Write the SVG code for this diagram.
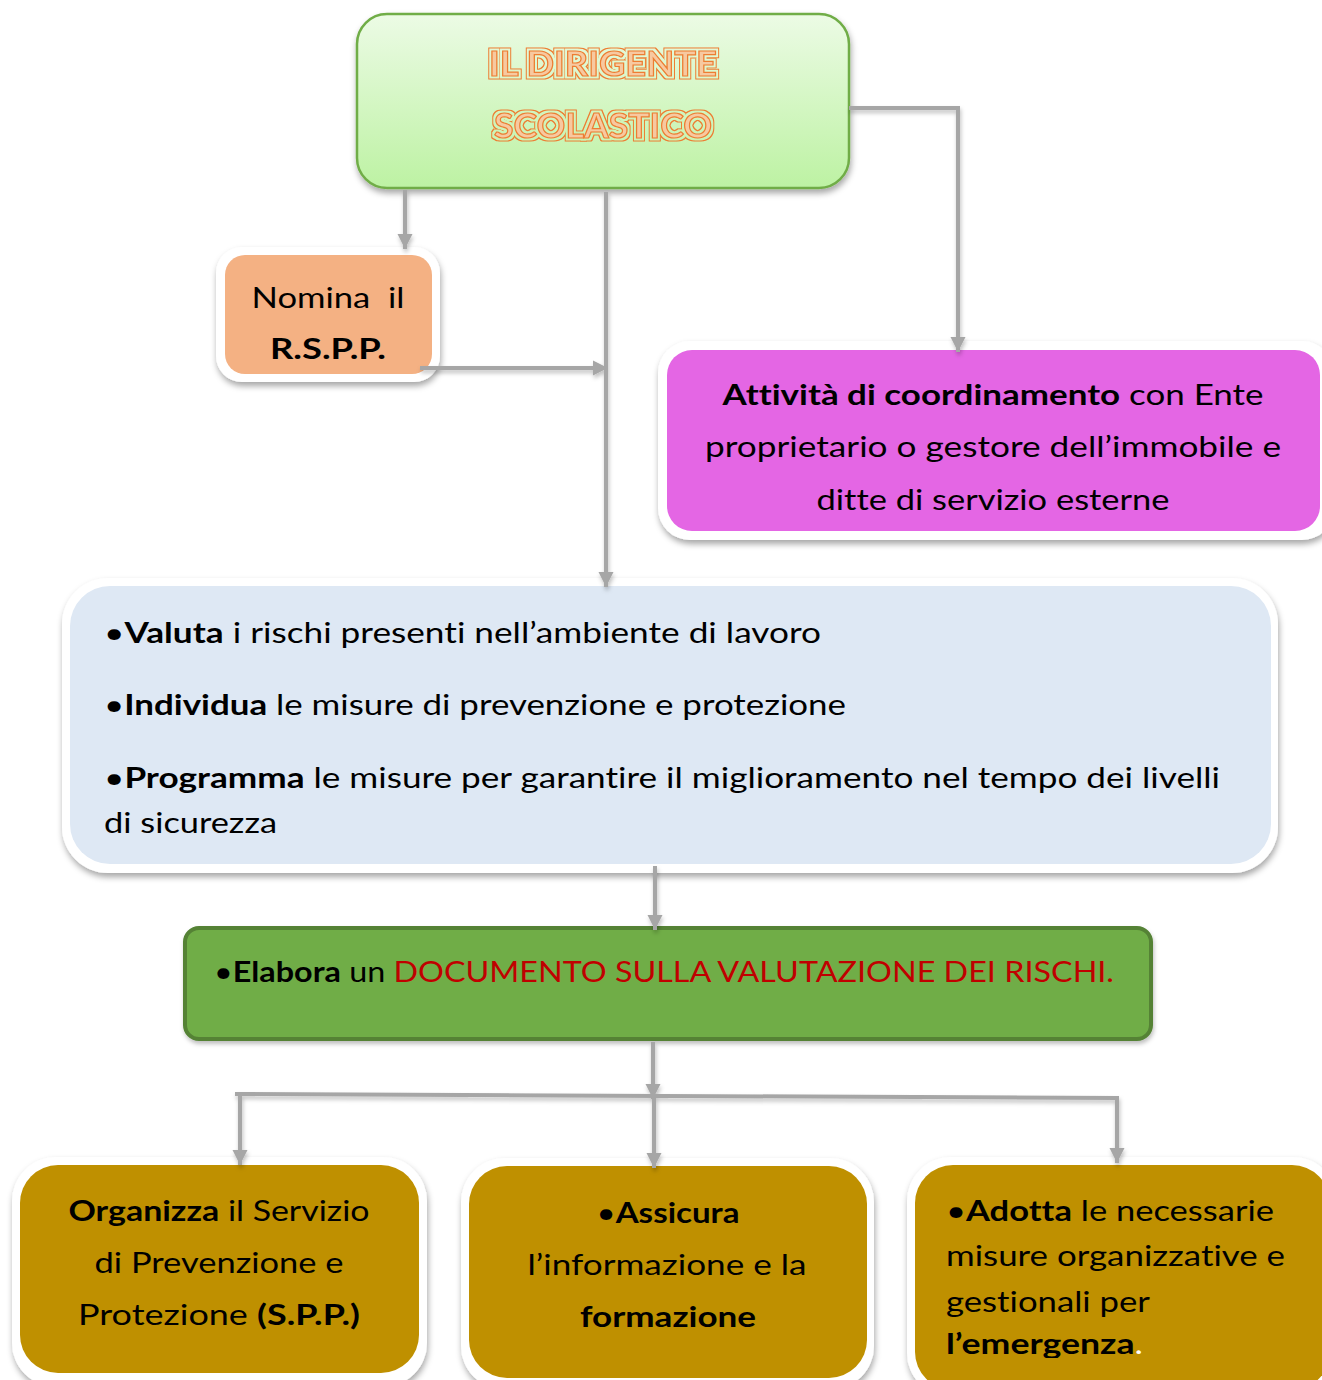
<svg xmlns="http://www.w3.org/2000/svg" width="1322" height="1380" viewBox="0 0 1322 1380">
<defs>
<style>
text{font-family:Lato,"Liberation Sans",sans-serif;fill:#000;font-variant-ligatures:none;font-feature-settings:"liga" 0,"clig" 0;}
.t{font-size:29px;}
.b{font-weight:bold;}
.red{fill:#c00000;}
.wh{fill:#ffffff;}
.frame{fill:#ffffff;filter:url(#sh);}
.conn{fill:none;stroke:#a6a6a6;stroke-width:4;}
.title{font-size:35px;font-weight:bold;fill:#f7c9a0;stroke:#ed7d31;stroke-width:1.2;filter:url(#dbl);}
</style>
<linearGradient id="gtop" x1="0" y1="0" x2="0" y2="1">
<stop offset="0" stop-color="#ecfbe5"/>
<stop offset="1" stop-color="#bdf2a3"/>
</linearGradient>
<filter id="sh" x="-5%" y="-10%" width="110%" height="125%">
<feDropShadow dx="1" dy="4" stdDeviation="3" flood-color="#000" flood-opacity="0.35"/>
</filter>
<filter id="lsh" x="-10%" y="-10%" width="120%" height="120%">
<feDropShadow dx="1" dy="3" stdDeviation="2" flood-color="#000" flood-opacity="0.25"/>
</filter>
<filter id="dbl" x="-10%" y="-30%" width="120%" height="160%">
<feMorphology in="SourceAlpha" operator="dilate" radius="2.6" result="d3"/>
<feMorphology in="SourceAlpha" operator="dilate" radius="1.6" result="d2"/>
<feComposite in="d3" in2="d2" operator="out" result="ring"/>
<feFlood flood-color="#ed7d31"/>
<feComposite in2="ring" operator="in" result="ringc"/>
<feMerge><feMergeNode in="ringc"/><feMergeNode in="SourceGraphic"/></feMerge>
</filter>
<marker id="ah" markerUnits="userSpaceOnUse" markerWidth="18" markerHeight="18" refX="15" refY="9" orient="auto">
<path d="M0,1.5 L15,9 L0,16.5 Z" fill="#a6a6a6"/>
</marker>
<clipPath id="c3"><rect x="900" y="1150" width="422" height="208"/></clipPath>
</defs>
<rect width="1322" height="1380" fill="#ffffff"/>

<g id="dirigente">
<rect x="357" y="14" width="492" height="174" rx="30" fill="url(#gtop)" stroke="#70ad47" stroke-width="2.5" filter="url(#sh)"/>
<text class="title" x="603" y="76" text-anchor="middle" textLength="228" lengthAdjust="spacingAndGlyphs">IL DIRIGENTE</text>
<text class="title" x="603" y="138" text-anchor="middle" textLength="218" lengthAdjust="spacingAndGlyphs">SCOLASTICO</text>
</g>

<g id="nomina">
<rect class="frame" x="216" y="247" width="224" height="135" rx="26"/>
<rect x="225" y="255" width="207" height="119" rx="20" fill="#f4b183"/>
<text class="t" x="328" y="308" text-anchor="middle" textLength="153" lengthAdjust="spacingAndGlyphs" style="white-space:pre">Nomina  il</text>
<text class="t b" x="328" y="359" text-anchor="middle" textLength="116" lengthAdjust="spacingAndGlyphs">R.S.P.P.</text>
</g>

<g id="coordinamento">
<rect class="frame" x="658" y="341" width="676" height="199" rx="32"/>
<rect x="667" y="350" width="653" height="181" rx="25" fill="#e466e4"/>
<text class="t" x="993" y="405" text-anchor="middle" textLength="541" lengthAdjust="spacingAndGlyphs"><tspan class="b">Attività di coordinamento</tspan> con Ente</text>
<text class="t" x="993" y="457" text-anchor="middle" textLength="576" lengthAdjust="spacingAndGlyphs">proprietario o gestore dell’immobile e</text>
<text class="t" x="993" y="510" text-anchor="middle" textLength="353" lengthAdjust="spacingAndGlyphs">ditte di servizio esterne</text>
</g>

<g id="valuta">
<rect class="frame" x="62" y="578" width="1216" height="295" rx="46"/>
<rect x="70" y="586" width="1201" height="278" rx="40" fill="#dee8f4"/>
<text class="t" x="104" y="643" textLength="717" lengthAdjust="spacingAndGlyphs">•<tspan class="b">Valuta</tspan> i rischi presenti nell’ambiente di lavoro</text>
<text class="t" x="104" y="715" textLength="742" lengthAdjust="spacingAndGlyphs">•<tspan class="b">Individua</tspan> le misure di prevenzione e protezione</text>
<text class="t" x="104" y="788" textLength="1116" lengthAdjust="spacingAndGlyphs">•<tspan class="b">Programma</tspan> le misure per garantire il miglioramento nel tempo dei livelli</text>
<text class="t" x="104" y="833" textLength="173" lengthAdjust="spacingAndGlyphs">di sicurezza</text>
</g>

<g id="elabora">
<rect x="185" y="928" width="966" height="111" rx="14" fill="#70ad47" stroke="#548235" stroke-width="4" filter="url(#lsh)"/>
<text class="t" x="214" y="982" textLength="900" lengthAdjust="spacingAndGlyphs">•<tspan class="b">Elabora</tspan> un <tspan class="red">DOCUMENTO SULLA VALUTAZIONE DEI RISCHI.</tspan></text>
</g>

<g id="organizza">
<rect class="frame" x="12" y="1157" width="415" height="230" rx="44"/>
<rect x="20" y="1165" width="399" height="208" rx="38" fill="#bf9000"/>
<text class="t" x="219" y="1221" text-anchor="middle" textLength="301" lengthAdjust="spacingAndGlyphs"><tspan class="b">Organizza</tspan> il Servizio</text>
<text class="t" x="219" y="1273" text-anchor="middle" textLength="249" lengthAdjust="spacingAndGlyphs">di Prevenzione e</text>
<text class="t" x="219" y="1325" text-anchor="middle" textLength="282" lengthAdjust="spacingAndGlyphs">Protezione <tspan class="b">(S.P.P.)</tspan></text>
</g>

<g id="assicura">
<rect class="frame" x="461" y="1158" width="413" height="232" rx="44"/>
<rect x="469" y="1166" width="398" height="212" rx="38" fill="#bf9000"/>
<text class="t" x="668" y="1223" text-anchor="middle" textLength="143" lengthAdjust="spacingAndGlyphs">•<tspan class="b">Assicura</tspan></text>
<text class="t" x="667" y="1275" text-anchor="middle" textLength="279" lengthAdjust="spacingAndGlyphs">l’informazione e la</text>
<text class="t b" x="668" y="1327" text-anchor="middle" textLength="176" lengthAdjust="spacingAndGlyphs">formazione</text>
</g>

<g id="adotta">
<rect class="frame" x="907" y="1157" width="430" height="240" rx="44"/>
<rect x="915" y="1165" width="415" height="225" rx="38" fill="#bf9000"/>
<g clip-path="url(#c3)">
<text class="t" x="946" y="1221" textLength="328" lengthAdjust="spacingAndGlyphs">•<tspan class="b">Adotta</tspan> le necessarie</text>
<text class="t" x="946" y="1266" textLength="339" lengthAdjust="spacingAndGlyphs">misure organizzative e</text>
<text class="t" x="946" y="1312" textLength="204" lengthAdjust="spacingAndGlyphs">gestionali per</text>
<text class="t" x="946" y="1354" textLength="197" lengthAdjust="spacingAndGlyphs"><tspan class="b">l’emergenza</tspan><tspan class="wh">.</tspan></text>
</g>
</g>

<g id="connectors" filter="url(#lsh)">
<path class="conn" d="M405,190 V249" marker-end="url(#ah)"/>
<path class="conn" d="M606,192 V587" marker-end="url(#ah)"/>
<path class="conn" d="M420,368 H608" marker-end="url(#ah)"/>
<path class="conn" d="M849,108 H958 V352" marker-end="url(#ah)"/>
<path class="conn" d="M655,866 V930" marker-end="url(#ah)"/>
<path class="conn" d="M653,1042 V1099" marker-end="url(#ah)"/>
<path class="conn" d="M235,1094 L1119,1098"/>
<path class="conn" d="M240,1094 V1165" marker-end="url(#ah)"/>
<path class="conn" d="M654,1096 V1168" marker-end="url(#ah)"/>
<path class="conn" d="M1117,1098 V1163" marker-end="url(#ah)"/>
</g>
</svg>
